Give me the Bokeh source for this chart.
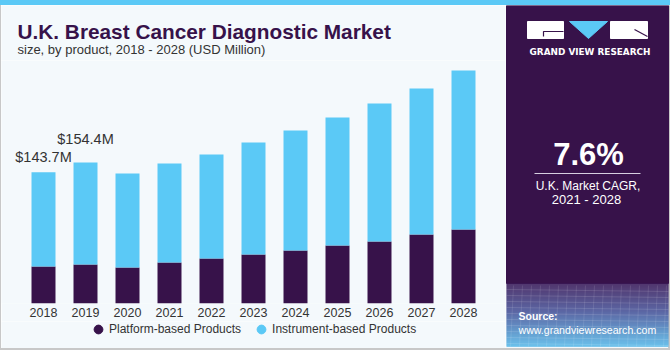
from bokeh.plotting import figure
from bokeh.models import ColumnDataSource, FactorRange, Range1d, Legend, LegendItem, Spacer
from bokeh.layouts import column, row
from bokeh.core.properties import value
from bokeh.embed import file_html
from bokeh.resources import INLINE

# ---------------- data ----------------
years = ["2018", "2019", "2020", "2021", "2022", "2023", "2024", "2025", "2026", "2027", "2028"]
platform = [40.6, 42.7, 39.5, 44.9, 49.3, 53.7, 58.1, 63.6, 68.0, 75.6, 81.1]
instrument = [103.1, 111.7, 103.0, 108.6, 114.0, 122.8, 131.5, 140.3, 151.2, 160.1, 174.3]
series_names = ["Platform-based Products", "Instrument-based Products"]
label_years = ["2018", "2019"]
label_texts = ["$143.7M", "$154.4M"]
title_text = "U.K. Breast Cancer Diagnostic Market"
subtitle_text = "size, by product, 2018 - 2028 (USD Million)"
cagr_text = "7.6%"
cagr_lines = ["U.K. Market CAGR,", "2021 - 2028"]
brand_text = "GRAND VIEW RESEARCH"
source_lines = ["Source:", "www.grandviewresearch.com"]

# ---------------- styles ----------------
DARK = "#37124a"
LIGHT = "#5bc9f6"
BG = "#f4f9fc"
GRAY = "#c8c8c8"
TXT = "#333333"
FONT = value("Liberation Sans")
label_offsets = [-15.4, -23.4]


def blank(w, h, ytop):
    f = figure(width=w, height=h, x_range=Range1d(0, w), y_range=Range1d(ytop + h, ytop),
               output_backend="svg", toolbar_location=None, min_border=0)
    f.axis.visible = False
    f.grid.visible = False
    f.outline_line_color = None
    f.background_fill_color = BG
    f.border_fill_color = BG
    return f


# ---------------- header ----------------
header = blank(504, 55, 0)
header.text(x=[16], y=[26], text=[title_text], text_font=FONT, text_font_size="20.8px",
            text_font_style="bold", text_color=DARK, text_baseline="alphabetic")
header.text(x=[16], y=[43.5], text=[subtitle_text], text_font=FONT, text_font_size="13px",
            text_color=TXT, text_baseline="alphabetic")

# ---------------- bars ----------------
src = ColumnDataSource(dict(year=years, platform=platform, instrument=instrument))
p = figure(width=504, height=261,
           x_range=FactorRange(*years, range_padding=1 / 11, range_padding_units="percent"),
           y_range=Range1d(0, 266.3),
           output_backend="svg", toolbar_location=None,
           min_border_left=0, min_border_right=0, min_border_top=0, min_border_bottom=18)
p.background_fill_color = BG
p.border_fill_color = BG
p.outline_line_color = None
p.grid.visible = False
p.yaxis.visible = False
p.xaxis.axis_line_color = None
p.xaxis.major_tick_line_color = None
p.xaxis.minor_tick_line_color = None
p.xaxis.major_tick_out = 0
p.xaxis.major_label_standoff = 4
p.xaxis.major_label_text_font = "Liberation Sans"
p.xaxis.major_label_text_font_size = "12.5px"
p.xaxis.major_label_text_color = TXT

p.vbar_stack(["platform", "instrument"], x="year", width=0.571, color=[DARK, LIGHT],
             line_color=None, source=src)

totals = {y: a + b for y, a, b in zip(years, platform, instrument)}
for i in range(len(label_years)):
    p.text(x=[label_years[i]], y=[totals[label_years[i]]], text=[label_texts[i]],
           y_offset=label_offsets[i], text_font=FONT, text_font_size="14.5px",
           text_color=TXT, text_align="center", text_baseline="alphabetic")

# ---------------- legend strip ----------------
legfig = figure(width=504, height=27, x_range=Range1d(0, 1), y_range=Range1d(0, 1),
                output_backend="svg", toolbar_location=None, min_border=0)
legfig.axis.visible = False
legfig.grid.visible = False
legfig.outline_line_color = None
legfig.background_fill_color = BG
legfig.border_fill_color = BG
r1 = legfig.scatter(x=[5], y=[5], marker="circle", size=9, color=DARK)
r2 = legfig.scatter(x=[5], y=[5], marker="circle", size=9, color=LIGHT)
legend = Legend(items=[LegendItem(label=series_names[0], renderers=[r1]),
                       LegendItem(label=series_names[1], renderers=[r2])],
                orientation="horizontal", location=(86, 8), margin=0, padding=0,
                spacing=9, label_standoff=0, glyph_width=22, glyph_height=22, label_height=16,
                label_text_font="Liberation Sans", label_text_font_size="12px",
                label_text_color=TXT, background_fill_alpha=0, border_line_color=None)
legfig.add_layout(legend)

# ---------------- right panel ----------------
rp = blank(165, 343, 0)
rp.quad(left=[163], right=[165], top=[0], bottom=[343], color=GRAY)
rp.quad(left=[1], right=[163], top=[0], bottom=[278], color=DARK)

stops = [(278, (58, 26, 90)), (305, (70, 80, 150)), (341, (88, 186, 234))]
g_top, g_bot, g_col = [], [], []
for yy in range(278, 341):
    for (y0, c0), (y1, c1) in zip(stops[:-1], stops[1:]):
        if y0 <= yy < y1:
            t = (yy - y0) / (y1 - y0)
            c = tuple(int(round(c0[k] + (c1[k] - c0[k]) * t)) for k in range(3))
    g_top.append(yy)
    g_bot.append(yy + 1.2)
    g_col.append("#%02x%02x%02x" % c)
rp.quad(left=1, right=163, top=g_top, bottom=g_bot, color=g_col, line_color=None)

# faint mesh texture in the gradient band
mesh_y = list(range(284, 341, 6))
rp.multi_line(xs=[[1, 163]] * len(mesh_y), ys=[[yy, yy + 2] for yy in mesh_y],
              color="white", alpha=0.12, line_width=1)
mesh_x = list(range(8, 163, 9))
rp.multi_line(xs=[[xx, xx - 3] for xx in mesh_x], ys=[[280, 341]] * len(mesh_x),
              color="white", alpha=0.1, line_width=1)

# logo
rp.quad(left=[22, 105], right=[58, 142], top=[16, 16], bottom=[33, 33], color="white")
rp.patch(x=[64, 102, 83], y=[16, 16, 33], color=LIGHT)
rp.line(x=[58, 38, 38], y=[26, 26, 31], color=DARK, line_width=1.2)
rp.line(x=[129, 142], y=[24, 31], color=DARK, line_width=1.2)
rp.text(x=[84.5], y=[46.5], text=[brand_text], text_font=value("DejaVu Sans"), text_font_size="8.9px",
        text_font_style="bold", text_color="white", text_align="center", text_baseline="alphabetic")

rp.text(x=[83], y=[148.5], text=[cagr_text], text_font=FONT, text_font_size="31px",
        text_font_style="bold", text_color="white", text_align="center", text_baseline="alphabetic")
rp.line(x=[29, 135], y=[168, 168], color="#d6cfe0", line_width=1)
rp.text(x=[82.5], y=[180.1], text=[cagr_lines[0]], text_font=FONT, text_font_size="12px",
        text_color="white", text_align="center", text_baseline="alphabetic")
rp.text(x=[81], y=[194.2], text=[cagr_lines[1]], text_font=FONT, text_font_size="13px",
        text_color="white", text_align="center", text_baseline="alphabetic")
rp.text(x=[13], y=[310.1], text=[source_lines[0]], text_font=FONT, text_font_size="10.5px",
        text_font_style="bold", text_color="white", text_baseline="alphabetic")
rp.text(x=[13], y=[324.1], text=[source_lines[1]], text_font=FONT, text_font_size="10.6px",
        text_color="white", text_baseline="alphabetic")

# ---------------- layout ----------------
stripe = Spacer(width=670, height=5, styles={"background-color": LIGHT})
edge = Spacer(width=1, height=343, styles={"background-color": GRAY})
bottom = Spacer(width=670, height=2, styles={"background-color": GRAY})
layout = column(stripe, row(edge, column(header, p, legfig, spacing=0), rp, spacing=0),
                bottom, spacing=0)

open("out.html", "w").write(file_html(layout, INLINE))
